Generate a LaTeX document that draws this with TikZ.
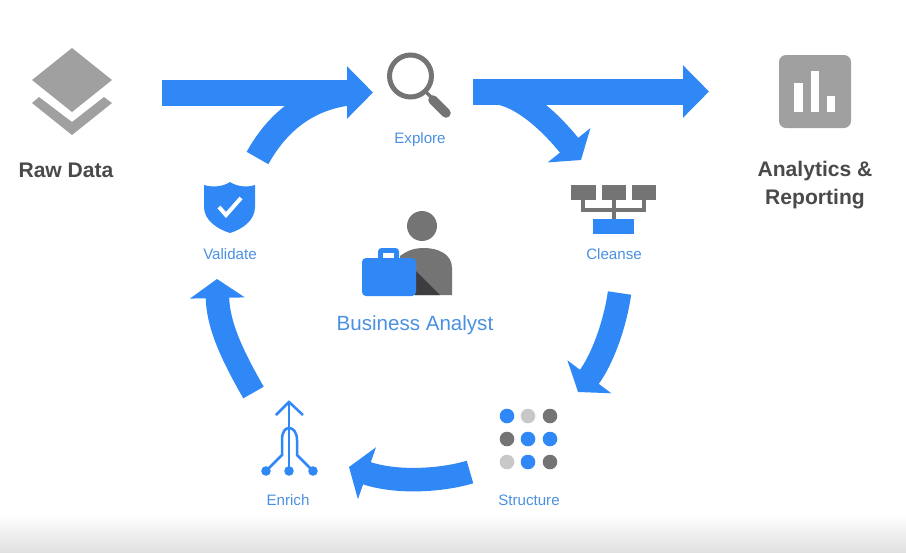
\documentclass[tikz,border=0pt]{standalone}
\usepackage{fontspec}
\setmainfont{Liberation Sans}
\usepackage{tikz}
\usetikzlibrary{arrows.meta}
\definecolor{flowblue}{HTML}{2F88F6}
\definecolor{labelblue}{HTML}{4A90E2}
\definecolor{icongray}{HTML}{757475}
\definecolor{softgray}{HTML}{A0A0A0}
\definecolor{palegray}{HTML}{C8C8C8}
\definecolor{darkwedge}{HTML}{3E3C3E}
\definecolor{headgray}{HTML}{4A4A4A}
\tikzset{
	mainflow/.style={draw=flowblue, line width=0.52cm, -{Triangle[length=0.52cm,width=1.02cm]}},
	loopflow/.style={draw=flowblue, line width=0.47cm, -{Triangle[length=0.38cm,width=1.08cm,quick]}},
	branchflow/.style={draw=flowblue, line width=0.5cm},
	steplabel/.style={text=labelblue, font=\fontsize{8.6}{10}\selectfont, inner sep=0pt, anchor=base},
	headlabel/.style={text=headgray, font=\fontsize{12}{15.9}\selectfont\bfseries, align=center, inner sep=0pt},
	treeline/.style={draw=icongray, line width=0.065cm},
	enrichline/.style={draw=flowblue, line width=0.05cm},
	dot/.style={fill=flowblue}
}

\begin{document}
\begin{tikzpicture}[x=0.02cm,y=-0.02cm]
	\useasboundingbox (0,0) rectangle (906,552);
	\shade[top color=white, bottom color=black!12] (0,514) rectangle (906,552);

	% labels
	\node[headlabel, anchor=base] at (66,177) (rawdata) {Raw Data};
	\node[headlabel] at (815,185) (analytics) {Analytics \&\\Reporting};
	\node[steplabel] at (420,143) (explore) {Explore};
	\node[steplabel] at (614,259) (cleanse) {Cleanse};
	\node[steplabel] at (529,505) (structure) {Structure};
	\node[steplabel] at (288,505) (enrich) {Enrich};
	\node[steplabel] at (230,259) (validate) {Validate};
	\node[steplabel, font=\fontsize{11.7}{14}\selectfont] at (415,330) (analyst) {Business Analyst};

	% arrow ends
	\coordinate (rawout) at (162,92.5);
	\coordinate (explorein) at (373,92.5);
	\coordinate (exploreout) at (473,91.5);
	\coordinate (reportin) at (709,91.5);
	\coordinate (validateout) at (257.5,158);
	\coordinate (validatejoin) at (345,93.5);
	\coordinate (cleansejoin) at (490,92);
	\coordinate (cleansein) at (581,160);
	\coordinate (cleanseout) at (619.5,293);
	\coordinate (structurein) at (578,392);
	\coordinate (structureout) at (470,472);
	\coordinate (enrichin) at (349,467);
	\coordinate (enrichout) at (253.5,392.5);
	\coordinate (validatein) at (217,279);

	% arrows
	\draw[mainflow] (rawout) -- (explorein);
	\draw[mainflow] (exploreout) -- (reportin);
	\draw[branchflow] (validateout) .. controls (277,123) and (305,100) .. (validatejoin);
	\draw[loopflow] (cleansejoin) .. controls (520,92) and (552,124) .. (cleansein);
	\draw[loopflow] (cleanseout) .. controls (615,325) and (602,360) .. (structurein);
	\draw[loopflow] (structureout) .. controls (440,481) and (395,483) .. (enrichin);
	\draw[loopflow] (enrichout) .. controls (232,355) and (218,325) .. (validatein);

	% raw data
	\fill[softgray] (72,48) -- (112,80) -- (72,112) -- (32,80) -- cycle;
	\fill[softgray] (32,103) -- (39,97) -- (72,122) -- (104,97) -- (112,103) -- (72,135) -- cycle;

	% explore
	\draw[icongray, line width=0.1cm] (410.5,76) circle (21);
	\draw[icongray, line width=0.07cm] (426,92) -- (433,99);
	\draw[icongray, line width=0.19cm, line cap=round] (433,100) -- (446,113);

	% reporting
	\fill[softgray, rounded corners=0.14cm] (779,55) rectangle (851,128);
	\fill[white] (794,83) rectangle (803,112);
	\fill[white] (811,71) rectangle (819,112);
	\fill[white] (827,96) rectangle (835,112);

	% cleanse
	\fill[icongray] (571,185) rectangle (596,200);
	\fill[icongray] (602,185) rectangle (626,200);
	\fill[icongray] (632,185) rectangle (656,200);
	\draw[treeline] (583,200) -- (583,210) -- (644,210) -- (644,200);
	\draw[treeline] (614,200) -- (614,220);
	\fill[flowblue] (593,219) rectangle (634,234);

	% structure
	\foreach \px/\py/\pc in {507/416/flowblue,528/416/palegray,550/416/icongray,
		507/439/icongray,528/439/flowblue,550/439/flowblue,
		507/462/palegray,528/462/flowblue,550/462/icongray}
		\fill[\pc] (\px,\py) circle (7.3);

	% enrich
	\draw[enrichline] (289,470) -- (289,402);
	\draw[enrichline] (276,415) -- (289,402) -- (303,415);
	\draw[enrichline] (266,471) -- (282,455) -- (282,440) .. controls (282,432) and (285,428) .. (289,428);
	\draw[enrichline] (313,471) -- (297,455) -- (297,440) .. controls (297,432) and (293,428) .. (289,428);
	\foreach \px in {266,289,313}
		\fill[dot] (\px,471) circle (4.8);

	% validate
	\fill[flowblue] (230,182) .. controls (236,186) and (246,188) .. (255,185) -- (255,207)
		.. controls (255,220) and (243,229) .. (230,233) .. controls (217,229) and (204,220) .. (204,207)
		-- (204,185) .. controls (214,188) and (224,186) .. (230,182) -- cycle;
	\draw[white, line width=0.08cm] (219,207) -- (226,215) -- (241,198);

	% business analyst
	\fill[icongray] (422,226) circle (15);
	\fill[icongray] (400,295) -- (400,256) .. controls (408,250) and (415,248) .. (424,248)
		.. controls (438,248) and (452,254) .. (452,268) -- (452,295) -- cycle;
	\fill[darkwedge] (415,270) -- (440,295) -- (415,295) -- cycle;
	\fill[flowblue, rounded corners=0.07cm] (378,248) rectangle (399,262);
	\fill[white] (383,253) rectangle (394,258);
	\fill[flowblue, rounded corners=0.08cm] (362,258) rectangle (416,296);
\end{tikzpicture}
\end{document}
